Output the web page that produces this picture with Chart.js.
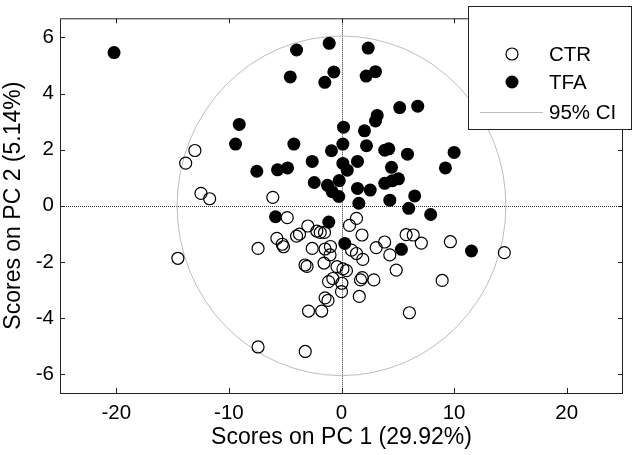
<!DOCTYPE html>
<html>
<head>
<meta charset="utf-8">
<script src="https://cdn.jsdelivr.net/npm/chart.js@4.4.1/dist/chart.umd.min.js"></script>
<style>
  html, body { margin: 0; padding: 0; background: #fff; }
  #wrap { width: 637px; height: 455px; }
</style>
</head>
<body>
<div id="wrap"><canvas id="myChart" width="637" height="455"></canvas></div>
<script>
// scores
const ctrX = [-13.84, -13.02, -12.48, -11.71, -14.53, -6.10, -4.82, -7.41, -5.74, -5.26,
  -5.15, -3.99, -3.73, -2.99, -2.19, -1.89, -1.51, -2.60, -1.46, -1.02,
  -0.98, -1.55, -3.24, -3.06, -0.40, 0.13, 0.44, -0.77, -1.15, 0.03,
  0.00, 1.84, 1.69, 2.87, 1.58, -1.46, -1.20, -2.93, -1.76, -7.41,
  -3.22, 0.71, 1.33, 1.82, 0.89, 1.33, 1.89, 3.08, 3.83, 4.29,
  4.86, 5.74, 6.37, 7.09, 9.67, 8.94, 6.03, 14.46];
const ctrY = [1.52, 1.97, 0.44, 0.25, -1.87, 0.30, -0.42, -1.52, -1.16, -1.37,
  -1.46, -1.08, -1.01, -0.72, -0.90, -0.95, -0.95, -1.52, -1.54, -1.75,
  -1.45, -2.04, -2.11, -2.16, -2.17, -2.25, -2.31, -2.59, -2.70, -2.76,
  -3.06, -2.56, -2.64, -2.64, -3.23, -3.28, -3.37, -3.75, -3.75, -5.03,
  -5.19, -0.70, -0.45, -1.04, -1.58, -1.70, -1.91, -1.49, -1.29, -1.75,
  -2.29, -1.03, -1.04, -1.33, -1.28, -2.66, -3.81, -1.67];

const tfaX = [-3.99, -1.09, 2.37, -4.55, -1.48, -0.68, 2.19, 3.02, 5.17, 6.77,
  3.17, 3.02, -9.08, -9.41, -4.23, 0.18, 0.12, 2.04, 2.22, -0.89,
  3.84, 4.20, 5.86, -2.60, 0.12, 1.42, 0.51, 4.44, -7.52, -5.68,
  -4.79, -2.42, -1.24, -0.20, -0.83, -0.24, 1.42, 2.55, 3.84, 4.50,
  5.06, 4.29, 6.50, 1.54, 5.97, 7.92, 10.00, 9.23, -20.2, -5.86,
  -1.13, 0.29, 5.32, 11.54];
const tfaY = [5.55, 5.79, 5.62, 4.59, 4.40, 4.77, 4.62, 4.78, 3.50, 3.55,
  3.22, 3.02, 2.90, 2.20, 2.20, 2.80, 2.20, 2.67, 2.14, 1.96,
  1.98, 2.03, 1.84, 1.58, 1.51, 1.58, 1.27, 1.37, 1.23, 1.28,
  1.35, 0.83, 0.73, 0.90, 0.50, 0.33, 0.62, 0.56, 0.80, 0.89,
  0.96, 0.20, 0.35, 0.09, -0.09, -0.31, 1.90, 1.35, 5.46, -0.39,
  -0.58, -1.34, -1.55, -1.61];

const xTicks = [-20, -10, 0, 10, 20];
const yTicks = [-6, -4, -2, 0, 2, 4, 6];
const seriesNames = ['CTR', 'TFA', '95% CI'];
// 95% confidence ellipse (centre and semi-axes in score units)
const ciCenter = [0, 0];
const ciRadiusX = 14.6;
const ciRadiusY = 6.05;

const FONT = 'Liberation Sans, Arial, Helvetica, sans-serif';

const toPoints = (xs, ys) => xs.map((v, i) => ({x: v, y: ys[i]}));

const framePlugin = {
    id: 'frame',
    beforeDatasetsDraw(chart) {
        const {ctx, chartArea: a, scales: {x, y}} = chart;
        const x0 = x.getPixelForValue(0);
        const y0 = y.getPixelForValue(0);
        ctx.save();
        // dotted zero lines
        ctx.strokeStyle = '#333';
        ctx.lineWidth = 1;
        ctx.setLineDash([1, 1]);
        ctx.beginPath();
        ctx.moveTo(a.left, Math.round(y0) + 0.5);
        ctx.lineTo(a.right, Math.round(y0) + 0.5);
        ctx.moveTo(Math.round(x0) + 0.5, a.top);
        ctx.lineTo(Math.round(x0) + 0.5, a.bottom);
        ctx.stroke();
        ctx.setLineDash([]);
        // confidence ellipse
        const cx = x.getPixelForValue(ciCenter[0]);
        const cy = y.getPixelForValue(ciCenter[1]);
        const rx = Math.abs(x.getPixelForValue(ciCenter[0] + ciRadiusX) - cx);
        const ry = Math.abs(y.getPixelForValue(ciCenter[1] + ciRadiusY) - cy);
        ctx.strokeStyle = '#bdbdbd';
        ctx.lineWidth = 1;
        ctx.beginPath();
        ctx.ellipse(cx, cy, rx, ry, 0, 0, Math.PI * 2);
        ctx.stroke();
        ctx.restore();
    },
    afterDatasetsDraw(chart) {
        const {ctx, chartArea: a, scales: {x, y}} = chart;
        ctx.save();
        ctx.strokeStyle = '#222';
        ctx.lineWidth = 1;
        ctx.strokeRect(a.left + 0.5, a.top + 0.5, a.right - a.left - 1, a.bottom - a.top);
        // inward tick marks on all four sides
        ctx.beginPath();
        xTicks.forEach(v => {
            const px = Math.round(x.getPixelForValue(v)) + 0.5;
            ctx.moveTo(px, a.bottom); ctx.lineTo(px, a.bottom - 5);
            ctx.moveTo(px, a.top); ctx.lineTo(px, a.top + 5);
        });
        yTicks.forEach(v => {
            const py = Math.round(y.getPixelForValue(v)) + 0.5;
            ctx.moveTo(a.left, py); ctx.lineTo(a.left + 5, py);
            ctx.moveTo(a.right, py); ctx.lineTo(a.right - 5, py);
        });
        ctx.stroke();

        // legend box
        const lx = 468, ly = 6, lw = 163, lh = 123;
        ctx.fillStyle = '#fff';
        ctx.fillRect(lx, ly, lw, lh);
        ctx.strokeRect(lx + 0.5, ly + 0.5, lw, lh);
        const rows = [54, 82, 112];
        ctx.lineWidth = 1.2;
        ctx.beginPath();
        ctx.arc(512, rows[0], 6, 0, Math.PI * 2);
        ctx.strokeStyle = '#000';
        ctx.stroke();
        ctx.beginPath();
        ctx.arc(512, rows[1], 6.5, 0, Math.PI * 2);
        ctx.fillStyle = '#000';
        ctx.fill();
        ctx.strokeStyle = '#bdbdbd';
        ctx.lineWidth = 1;
        ctx.beginPath();
        ctx.moveTo(480, rows[2] + 0.5); ctx.lineTo(543, rows[2] + 0.5);
        ctx.stroke();
        ctx.fillStyle = '#000';
        ctx.font = '20.5px ' + FONT;
        ctx.textBaseline = 'middle';
        ctx.textAlign = 'left';
        seriesNames.forEach((name, i) => ctx.fillText(name, 549, rows[i] + 1));
        ctx.restore();
    }
};

const ctx = document.getElementById('myChart').getContext('2d');

new Chart(ctx, {
    type: 'scatter',
    data: {
        datasets: [{
            label: seriesNames[0],
            data: toPoints(ctrX, ctrY),
            pointRadius: 6,
            pointBorderWidth: 1.2,
            borderColor: '#000',
            backgroundColor: 'rgba(0,0,0,0)'
        }, {
            label: seriesNames[1],
            data: toPoints(tfaX, tfaY),
            pointRadius: 6.5,
            pointBorderWidth: 0,
            borderColor: '#000',
            backgroundColor: '#000'
        }]
    },
    options: {
        responsive: false,
        animation: false,
        layout: { padding: { top: 18, right: 14, left: 0, bottom: 0 } },
        plugins: {
            legend: { display: false },
            tooltip: { enabled: false }
        },
        scales: {
            x: {
                type: 'linear',
                min: -25,
                max: 25,
                afterBuildTicks: s => { s.ticks = xTicks.map(v => ({value: v})); },
                afterFit: s => { s.height = 62; },
                grid: { display: false, drawTicks: false },
                border: { display: false },
                ticks: { color: '#000', padding: 8, font: { family: FONT, size: 20.5 } },
                title: {
                    display: true,
                    text: 'Scores on PC 1 (29.92%)',
                    color: '#000',
                    padding: { top: 4, bottom: 4 },
                    font: { family: FONT, size: 23 }
                }
            },
            y: {
                type: 'linear',
                min: -6.67,
                max: 6.68,
                afterBuildTicks: s => { s.ticks = yTicks.map(v => ({value: v})); },
                afterFit: s => { s.width = 60; },
                grid: { display: false, drawTicks: false },
                border: { display: false },
                ticks: { color: '#000', padding: 6, font: { family: FONT, size: 20.5 } },
                title: {
                    display: true,
                    text: 'Scores on PC 2 (5.14%)',
                    color: '#000',
                    padding: { top: 0, bottom: 0 },
                    font: { family: FONT, size: 23 }
                }
            }
        }
    },
    plugins: [framePlugin]
});
</script>
</body>
</html>
